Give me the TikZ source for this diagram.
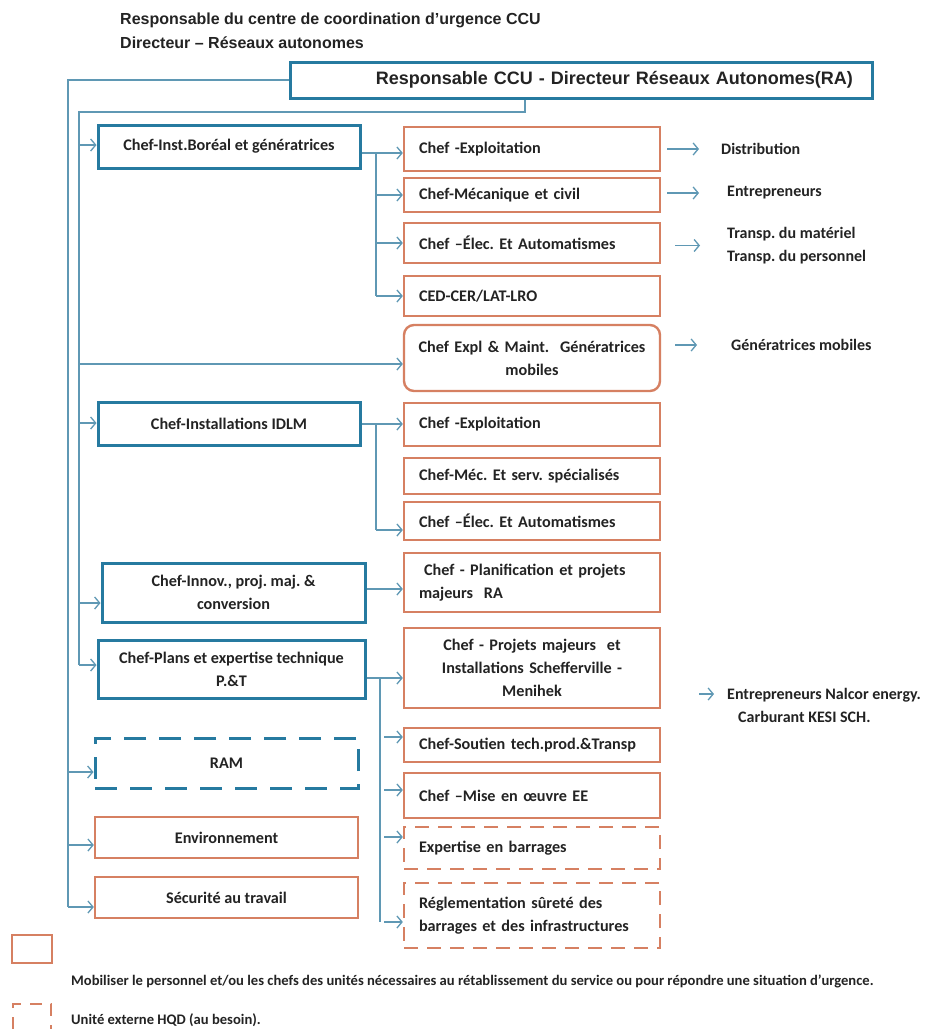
\documentclass[tikz,border=0pt]{standalone}
\usepackage{fontspec}
\setmainfont{Carlito}
\newfontfamily\arialf{Liberation Sans}
\usetikzlibrary{arrows.meta,calc}
\definecolor{bblue}{RGB}{38,122,160}
\definecolor{borange}{RGB}{214,128,98}
\definecolor{lblue}{RGB}{95,152,180}
\definecolor{txt}{RGB}{35,35,35}
\tikzset{
  base/.style={rectangle, draw, text=txt, font=\bfseries\fontsize{16.2}{23}\selectfont, inner ysep=2pt},
  bluebox/.style={base, draw=bblue, line width=3pt, align=center},
  orgbox/.style={base, draw=borange, line width=2.4pt},
  lbox/.style={text width=226pt, inner xsep=15pt, align=left},
  cbox/.style={text width=246pt, inner xsep=5pt, align=center},
  extbox/.style={dash pattern=on 14pt off 9pt},
  conn/.style={draw=lblue, line width=1.3pt},
  arr/.style={conn, -{Straight Barb[length=5pt,width=12pt]}},
  lbl/.style={text=txt, font=\bfseries\fontsize{16}{23}\selectfont, anchor=west, align=left, inner sep=0pt},
  ttl/.style={text=txt, font=\arialf\bfseries\fontsize{16}{19}\selectfont, anchor=west, inner sep=0pt},
  leg/.style={text=txt, font=\bfseries\fontsize{14.6}{17}\selectfont, anchor=west, inner sep=0pt},
}
\begin{document}
\frenchspacing
\begin{tikzpicture}[x=1pt,y=-1pt]
\useasboundingbox (0,0) rectangle (927,1029);
\fill[white] (0,0) rectangle (927,1029);

% titles
\node[ttl] (t1) at (120,20) {Responsable du centre de coordination d’urgence CCU};
\node[ttl] (t2) at (120,43) {Directeur – Réseaux autonomes};

% top box
\node[bluebox, minimum width=582pt, minimum height=36pt, text width=544pt, inner xsep=19pt, align=right,
      font=\arialf\bfseries\fontsize{18}{21}\selectfont] (top) at (581,80) {Responsable CCU - Directeur Réseaux Autonomes(RA)};

% left column
\node[bluebox, minimum width=262pt, minimum height=43pt] (boreal) at (229,146.5) {Chef-Inst.Boréal et génératrices};
\node[bluebox, minimum width=262pt, minimum height=43pt] (idlm) at (229,423.5) {Chef-Installations IDLM};
\node[bluebox, minimum width=263pt, minimum height=59pt] (innov) at (233.5,592.5) {Chef-Innov., proj. maj. \&\\conversion};
\node[bluebox, minimum width=267pt, minimum height=58pt] (plans) at (231.5,669) {Chef-Plans et expertise technique\\P.\&T};
\node[bluebox, dash pattern=on 22pt off 13pt, minimum width=263pt, minimum height=50pt] (ram) at (226.5,763) {RAM};
\node[orgbox, align=center, minimum width=263pt, minimum height=41pt] (env) at (226.5,837.5) {Environnement};
\node[orgbox, align=center, minimum width=263pt, minimum height=41pt] (secu) at (226.5,897.5) {Sécurité au travail};

% middle column
\node[orgbox, lbox, minimum height=44pt] (expl1) at (532,149) {Chef -Exploitation};
\node[orgbox, lbox, minimum height=34pt] (meca) at (532,195) {Chef-Mécanique et civil};
\node[orgbox, lbox, minimum height=40pt] (elec1) at (532,243) {Chef –Élec. Et Automatismes};
\node[orgbox, lbox, minimum height=40pt] (ced) at (532,296) {CED-CER/LAT-LRO};
\node[orgbox, cbox, rounded corners=10pt, minimum height=66pt] (gen) at (532,358) {Chef Expl \& Maint.\ \ Génératrices\\mobiles};
\node[orgbox, lbox, minimum height=43pt] (expl2) at (532,424.5) {Chef -Exploitation};
\node[orgbox, lbox, minimum height=36pt] (mecserv) at (532,476) {Chef-Méc. Et serv. spécialisés};
\node[orgbox, lbox, minimum height=38pt] (elec2) at (532,521) {Chef –Élec. Et Automatismes};
\node[orgbox, lbox, minimum height=59pt] (planif) at (532,582.5) {\hspace*{5pt}Chef - Planification et projets\\majeurs\ \ RA};
\node[orgbox, cbox, minimum height=80pt] (projets) at (532,668) {Chef - Projets majeurs\ \ et\\Installations Schefferville -\\Menihek};
\node[orgbox, lbox, minimum height=34pt] (soutien) at (532,745) {Chef-Soutien tech.prod.\&Transp};
\node[orgbox, lbox, minimum height=45pt] (mise) at (532,795.5) {Chef –Mise en œuvre EE};
\node[orgbox, extbox, lbox, minimum height=42pt] (expert) at (532,848) {Expertise en barrages};
\node[orgbox, extbox, lbox, minimum height=65pt] (regl) at (532,915.5) {Réglementation sûreté des\\barrages et des infrastructures};

% right labels
\node[lbl] (dist) at (721,149) {Distribution};
\node[lbl] (entr) at (727,193) {Entrepreneurs};
\node[lbl] (transp) at (727,245.5) {Transp. du matériel\\Transp. du personnel};
\node[lbl] (genmob) at (731,345) {Génératrices mobiles};
\node[lbl] (nalcor) at (727,705.5) {Entrepreneurs Nalcor energy.\\\hspace*{11pt}Carburant KESI SCH.};

% outer line
\coordinate (oTop) at (68,80);
\coordinate (oBot) at (68,907);
\coordinate (oRam) at (68,772);
\coordinate (oEnv) at (68,845);
\draw[conn] (top.west) -- (oTop) -- (oBot);
\draw[arr] (oBot) -- (secu.west |- oBot);
\draw[arr] (oRam) -- (ram.west |- oRam);
\draw[arr] (oEnv) -- (env.west |- oEnv);

% inner line
\coordinate (iB) at (525,112);
\coordinate (iC) at (79,112);
\coordinate (iD) at (79,665);
\coordinate (iBor) at (79,145);
\coordinate (iGen) at (79,364);
\coordinate (iIdl) at (79,423);
\coordinate (iInn) at (79,603);
\draw[conn] (top.south -| iB) -- (iB) -- (iC) -- (iD);
\draw[arr] (iBor) -- (boreal.west |- iBor);
\draw[arr] (iGen) -- (gen.west |- iGen);
\draw[arr] (iIdl) -- (idlm.west |- iIdl);
\draw[arr] (iInn) -- (innov.west |- iInn);
\draw[arr] (iD) -- (plans.west |- iD);

% Boreal branch
\coordinate (vB) at (376,153);
\draw[arr] (boreal.east |- vB) -- (expl1.west |- vB);
\draw[conn] (vB) -- (vB |- ced.west);
\draw[arr] (vB |- meca.west) -- (meca.west);
\draw[arr] (vB |- elec1.west) -- (elec1.west);
\draw[arr] (vB |- ced.west) -- (ced.west);

% IDLM branch
\coordinate (vI) at (376,424);
\coordinate (vI2) at (376,530);
\draw[arr] (idlm.east |- vI) -- (expl2.west |- vI);
\draw[conn] (vI) -- (vI2);
\draw[arr] (vI2) -- (elec2.west |- vI2);

% Innov branch
\coordinate (yN) at (0,589);
\draw[arr] (innov.east |- yN) -- (planif.west |- yN);

% Plans branch
\coordinate (vP) at (380,678);
\coordinate (vP2) at (380,922);
\coordinate (yK) at (380,737);
\coordinate (yL) at (380,790);
\coordinate (yM) at (380,837);
\draw[arr] (plans.east |- vP) -- (projets.west |- vP);
\draw[conn] (vP) -- (vP2);
\draw[arr, shorten <=4pt] (yK) -- (soutien.west |- yK);
\draw[arr, shorten <=4pt] (yL) -- (mise.west |- yL);
\draw[arr, shorten <=4pt] (yM) -- (expert.west |- yM);
\draw[arr, shorten <=4pt] (vP2) -- (regl.west |- vP2);

% right arrows
\draw[arr, shorten <=6pt, shorten >=22pt] (expl1.east) -- (dist.west);
\draw[arr, shorten <=6pt, shorten >=28pt] (meca.east |- entr.west) -- (entr.west);
\draw[arr, shorten <=14pt, shorten >=27pt] (elec1.east |- transp.west) -- (transp.west);
\draw[arr, shorten <=14pt, shorten >=34pt] (gen.east |- genmob.west) -- (genmob.west);
\coordinate (nA) at (699,694);
\draw[arr, shorten >=13pt] (nA) -- (nA -| nalcor.west);

% legend
\node[orgbox, minimum width=40pt, minimum height=28pt, inner sep=0pt] (legA) at (32,949) {};
\node[leg] (legAt) at (71,981) {Mobiliser le personnel et/ou les chefs des unités nécessaires au rétablissement du service ou pour répondre une situation d’urgence.};
\draw[draw=borange, line width=2.4pt, dash pattern=on 12pt off 9pt] (13,1029) -- (13,1004) -- (51,1004) -- (51,1029);
\node[leg] (legBt) at (71,1020) {Unité externe HQD (au besoin).};
\end{tikzpicture}
\end{document}
